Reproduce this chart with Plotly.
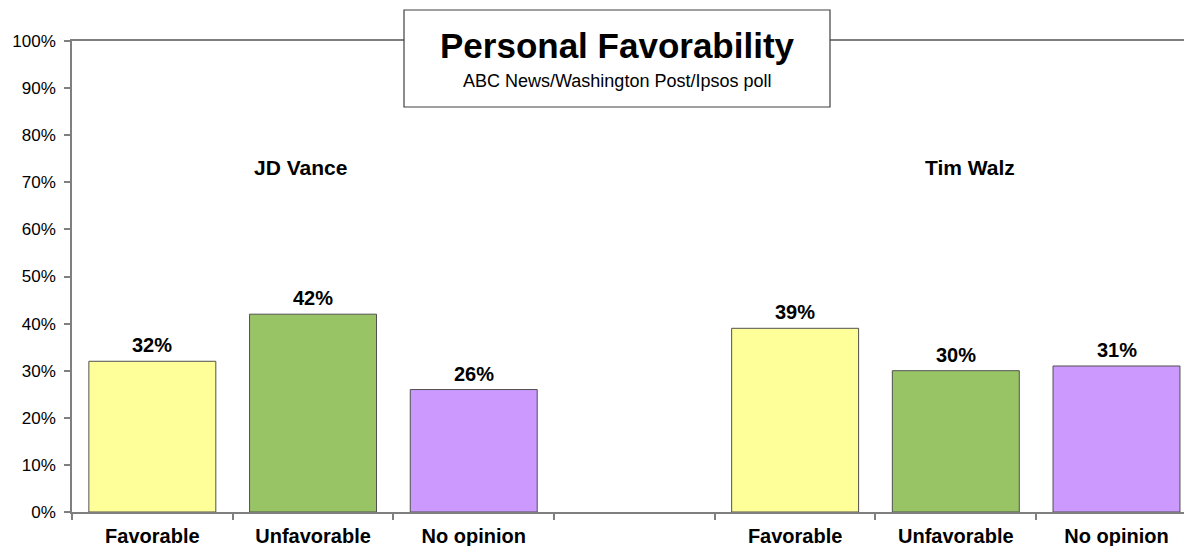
import plotly.graph_objects as go

# Data
categories = ["Favorable", "Unfavorable", "No opinion", "", "Favorable", "Unfavorable", "No opinion"]
vance_values = [32, 42, 26]
walz_values = [39, 30, 31]
bar_colors = ["#FFFF99", "#99C466", "#CC99FF"]
candidates = ["JD Vance", "Tim Walz"]
y_ticks = [0, 10, 20, 30, 40, 50, 60, 70, 80, 90, 100]

FONT = "Liberation Sans, Arial, sans-serif"

x_vance = [0, 1, 2]
x_walz = [4, 5, 6]

fig = go.Figure()
for xs, vals in ((x_vance, vance_values), (x_walz, walz_values)):
    fig.add_trace(go.Bar(
        x=xs, y=vals, width=0.79,
        marker=dict(color=bar_colors, line=dict(color="#505050", width=1)),
        showlegend=False,
        hoverinfo="skip",
    ))
    for x, v in zip(xs, vals):
        fig.add_annotation(x=x, y=v, text=f"<b>{v}%</b>", showarrow=False,
                           yanchor="middle", yshift=16,
                           font=dict(family=FONT, size=20, color="black"))

fig.update_layout(
    width=1184, height=546,
    margin=dict(l=72, r=0, t=41, b=34),
    paper_bgcolor="white", plot_bgcolor="white",
    font=dict(family=FONT, color="black"),
)

fig.update_xaxes(
    range=[-0.5, 6.42],
    automargin=False,
    tickmode="array",
    tickvals=list(range(len(categories))),
    ticktext=[f"<b>{c}</b>" for c in categories],
    ticks="",
    tickfont=dict(family=FONT, size=20, color="black"),
    showline=True, linecolor="#7f7f7f", linewidth=1.5,
    mirror=True,
    showgrid=False, zeroline=False,
    minor=dict(tickmode="array", tickvals=[i - 0.5 for i in range(8)],
               ticks="outside", ticklen=6, tickcolor="#7f7f7f", tickwidth=1.5, showgrid=False),
    ticklabelstandoff=5,
)

fig.update_yaxes(
    range=[0, 100],
    automargin=False,
    tickmode="array",
    tickvals=y_ticks,
    ticktext=[f"{v}%" for v in y_ticks],
    ticks="outside", ticklen=6, tickcolor="#7f7f7f", tickwidth=1.5,
    tickfont=dict(family=FONT, size=17, color="black"),
    ticklabelstandoff=5,
    showline=True, linecolor="#7f7f7f", linewidth=1.5,
    showgrid=False, zeroline=False,
)

# Title box
fig.add_shape(type="rect", xref="paper", yref="paper",
              x0=(404 - 72) / 1112, x1=(830 - 72) / 1112,
              y0=(512 - 107) / 471, y1=(512 - 10) / 471,
              fillcolor="white", line=dict(color="#404040", width=1.2), layer="above")
fig.add_annotation(xref="paper", yref="paper", x=(617 - 72) / 1112, y=(512 - 45) / 471,
                   text="<b>Personal Favorability</b>", showarrow=False,
                   font=dict(family=FONT, size=35, color="black"), xanchor="center", yanchor="middle")
fig.add_annotation(xref="paper", yref="paper", x=(617 - 72) / 1112, y=(512 - 81) / 471,
                   text="ABC News/Washington Post/Ipsos poll", showarrow=False,
                   font=dict(family=FONT, size=18, color="black"), xanchor="center", yanchor="middle")

# Candidate labels
for name, xc in zip(candidates, (x_vance[1] - 0.08, x_walz[1] + 0.09)):
    fig.add_annotation(x=xc, yref="paper", y=(512 - 167) / 471, text=f"<b>{name}</b>",
                       showarrow=False, font=dict(family=FONT, size=21, color="black"),
                       xanchor="center", yanchor="middle")

fig.write_html("out.html", config={"displayModeBar": False},
               post_script="document.body.style.margin='0';document.body.style.overflow='hidden';")
